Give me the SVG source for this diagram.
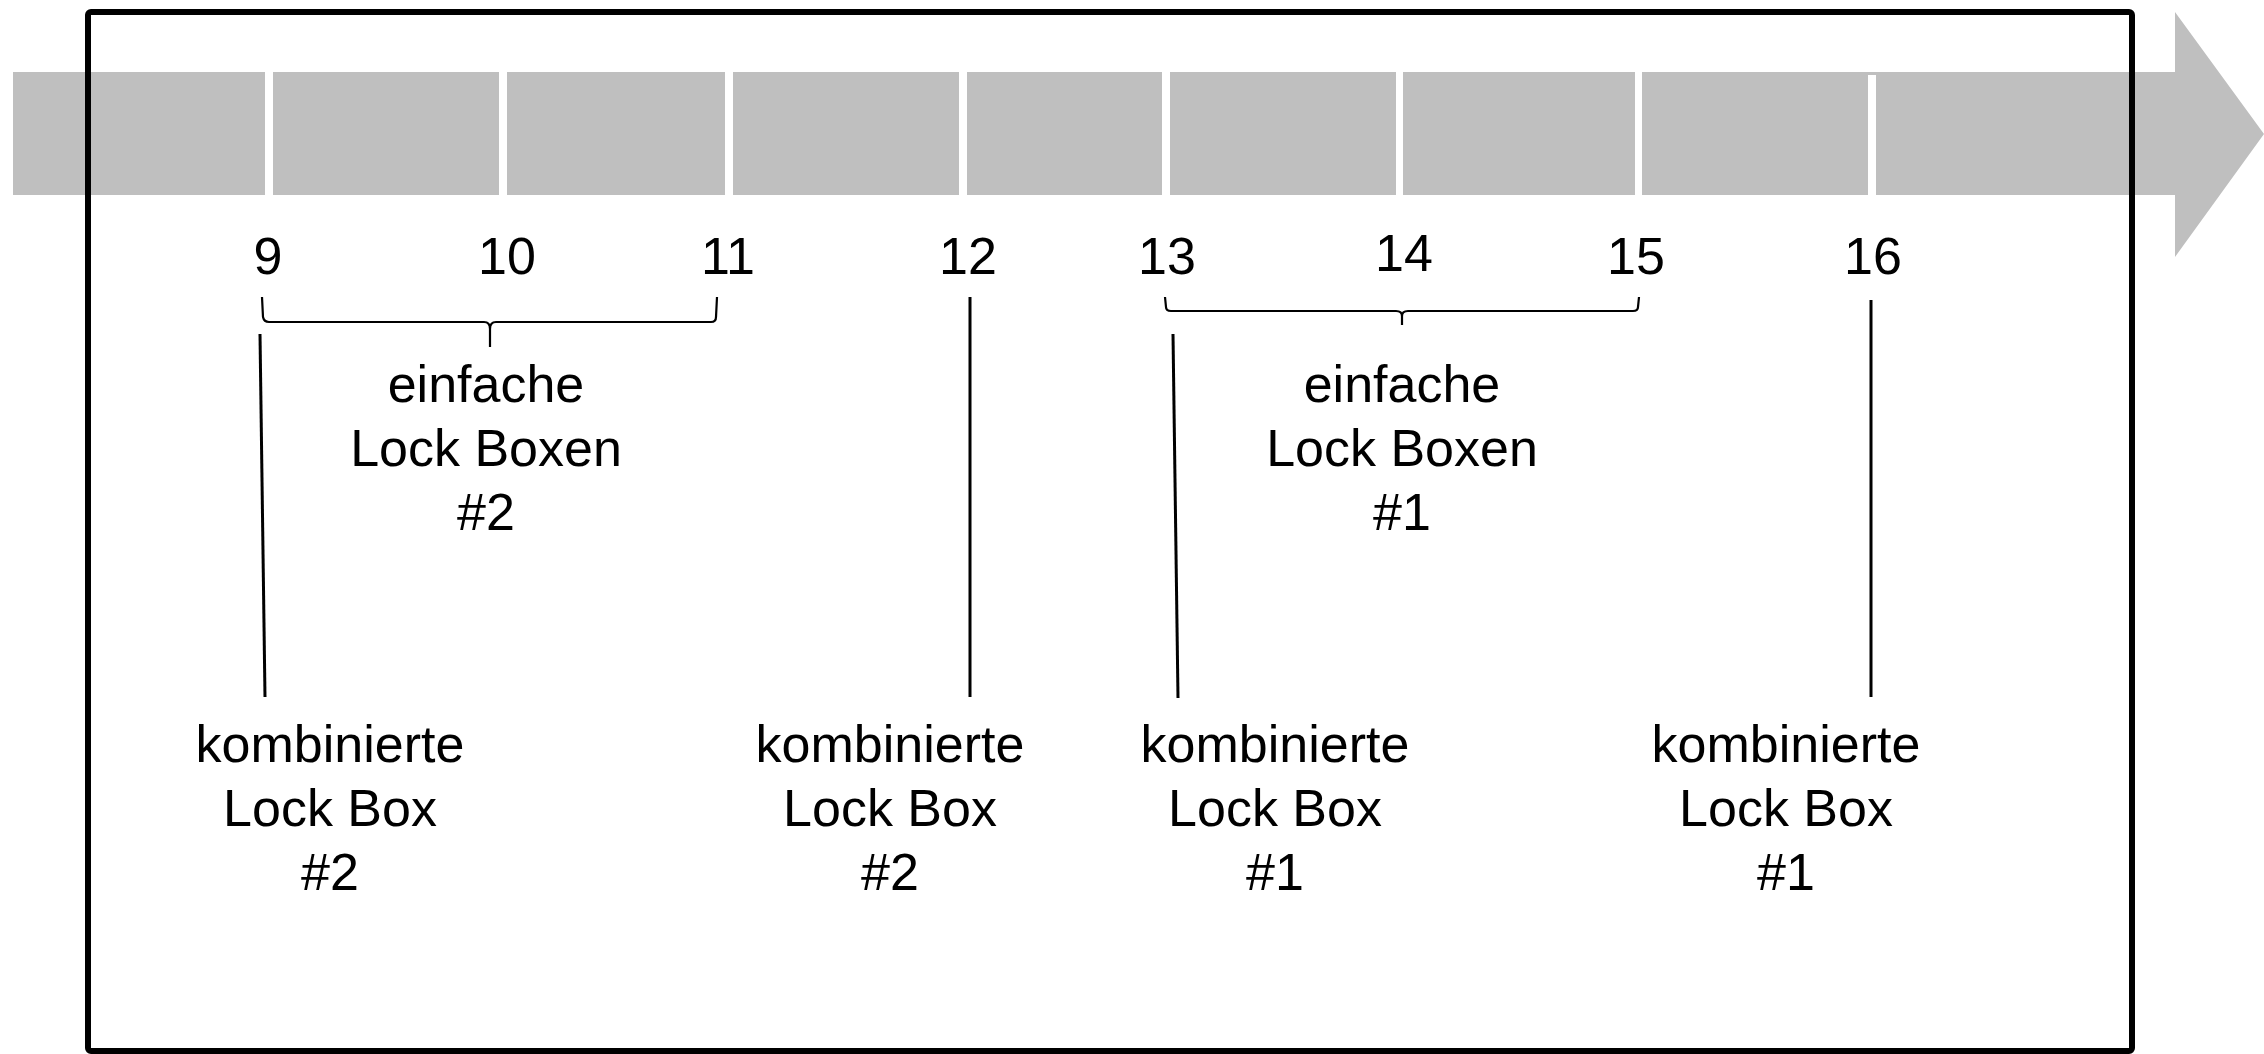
<svg xmlns="http://www.w3.org/2000/svg" width="2264" height="1054" viewBox="0 0 2264 1054">
<style>
.t{font-family:"Liberation Sans",Arial,sans-serif;font-size:52px;fill:#000;text-anchor:middle}
.gap{fill:#fff}
.ln{stroke:#000;stroke-width:3;fill:none}
.br{stroke:#000;stroke-width:2.2;fill:none}
</style>
<rect width="2264" height="1054" fill="#fff"/>
<g id="timeline">
<polygon points="13,72 2175,72 2175,12 2264,134 2175,257 2175,195 13,195" fill="#bfbfbf"/>
<rect class="gap" x="265" y="72" width="8" height="123"/>
<rect class="gap" x="499" y="72" width="8" height="123"/>
<rect class="gap" x="725" y="72" width="8" height="123"/>
<rect class="gap" x="959" y="72" width="8" height="123"/>
<rect class="gap" x="1162" y="72" width="8" height="123"/>
<rect class="gap" x="1396" y="72" width="7" height="123"/>
<rect class="gap" x="1635" y="72" width="7" height="123"/>
<rect class="gap" x="1868" y="75" width="8" height="120"/>
</g>
<rect id="frame" x="88" y="12" width="2044" height="1039" rx="3" fill="none" stroke="#000" stroke-width="6"/>
<g id="numbers">
<text class="t" x="268" y="274">9</text>
<text class="t" x="507" y="274">10</text>
<text class="t" x="728" y="274">11</text>
<text class="t" x="968" y="274">12</text>
<text class="t" x="1167" y="274">13</text>
<text class="t" x="1404" y="271">14</text>
<text class="t" x="1636" y="274">15</text>
<text class="t" x="1873" y="274">16</text>
</g>
<g id="connectors">
<path class="br" d="M262,297 L263,317 Q264,322 269,322 L484,322 Q490,322 490,329 L490,347 M490,329 Q490,322 496,322 L711,322 Q716,322 716,317 L717,297"/>
<path class="br" d="M1165,297 L1166,307 Q1166,311 1171,311 L1396,311 Q1402,311 1402,316 L1402,325 M1402,316 Q1402,311 1408,311 L1633,311 Q1638,311 1638,307 L1639,297"/>
<line class="ln" x1="260" y1="334" x2="265" y2="697"/>
<line class="ln" x1="970" y1="297" x2="970" y2="697"/>
<line class="ln" x1="1173" y1="334" x2="1178" y2="698"/>
<line class="ln" x1="1871" y1="300" x2="1871" y2="697"/>
</g>
<g id="einfache2">
<text class="t" x="486" y="402">einfache</text>
<text class="t" x="486" y="466">Lock Boxen</text>
<text class="t" x="486" y="530">#2</text>
</g>
<g id="einfache1">
<text class="t" x="1402" y="402">einfache</text>
<text class="t" x="1402" y="466">Lock Boxen</text>
<text class="t" x="1402" y="530">#1</text>
</g>
<g id="kombiniert2a">
<text class="t" x="330" y="762">kombinierte</text>
<text class="t" x="330" y="826">Lock Box</text>
<text class="t" x="330" y="890">#2</text>
</g>
<g id="kombiniert2b">
<text class="t" x="890" y="762">kombinierte</text>
<text class="t" x="890" y="826">Lock Box</text>
<text class="t" x="890" y="890">#2</text>
</g>
<g id="kombiniert1a">
<text class="t" x="1275" y="762">kombinierte</text>
<text class="t" x="1275" y="826">Lock Box</text>
<text class="t" x="1275" y="890">#1</text>
</g>
<g id="kombiniert1b">
<text class="t" x="1786" y="762">kombinierte</text>
<text class="t" x="1786" y="826">Lock Box</text>
<text class="t" x="1786" y="890">#1</text>
</g>
</svg>
